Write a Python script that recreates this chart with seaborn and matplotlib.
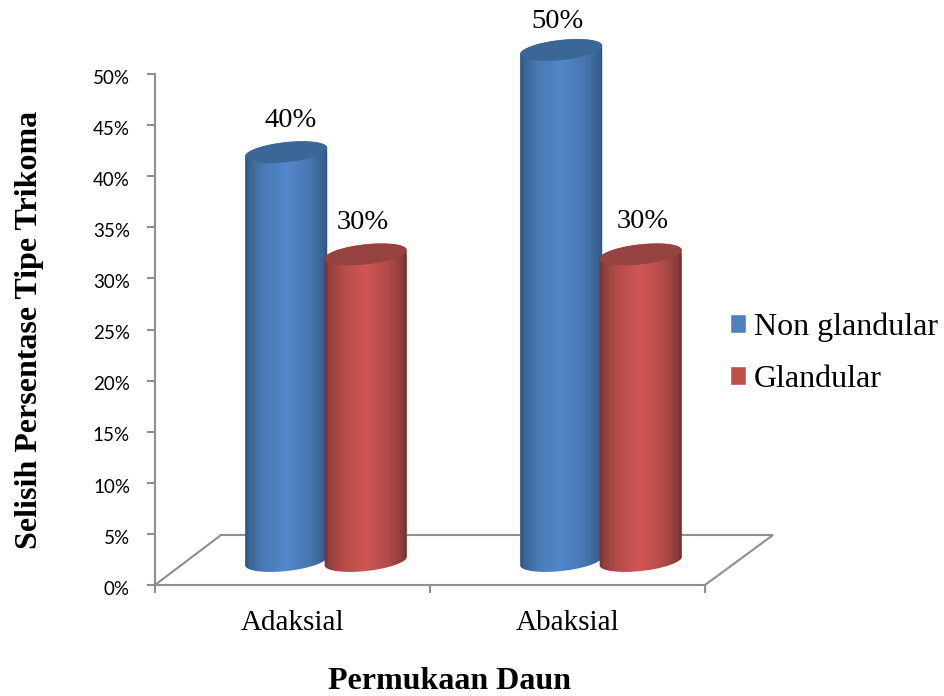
import numpy as np
import pandas as pd
import matplotlib
matplotlib.use("Agg")
import matplotlib.pyplot as plt
import matplotlib.transforms as mtransforms
from matplotlib.colors import LinearSegmentedColormap
from matplotlib.lines import Line2D
from matplotlib.path import Path
from matplotlib.patches import PathPatch
from matplotlib.ticker import PercentFormatter, FixedLocator
import seaborn as sns

# Data
surfaces = ["Adaksial", "Abaksial"]
non_glandular = [40, 50]
glandular = [30, 30]
series_names = ["Non glandular", "Glandular"]
value_ticks = [0, 5, 10, 15, 20, 25, 30, 35, 40, 45, 50]

df = pd.DataFrame({
    "Permukaan": surfaces * 2,
    "Tipe": [series_names[0]] * 2 + [series_names[1]] * 2,
    "Nilai": non_glandular + glandular,
})

W, H = 945, 696
SERIF = "Liberation Serif"
GRAY = "#8f8f8f"

sns.set_theme(style="white")
fig = plt.figure(figsize=(W / 100, H / 100), dpi=100, facecolor="white")
pix = mtransforms.Affine2D().scale(1, -1).translate(0, H)


def axes_rect(left, top, right, bottom):
    return [left / W, 1 - bottom / H, (right - left) / W, (bottom - top) / H]


# Value axis and category axis on the front edge of the floor
ax = fig.add_axes(axes_rect(155, 74, 705, 585), zorder=1)
ax.set_xlim(-0.5, 1.5)
ax.set_ylim(0, 50)
ax.set_facecolor("none")
for side in ("top", "right"):
    ax.spines[side].set_visible(False)
for side in ("left", "bottom"):
    ax.spines[side].set_color(GRAY)
    ax.spines[side].set_linewidth(1.5)
ax.yaxis.set_major_locator(FixedLocator(value_ticks))
ax.yaxis.set_major_formatter(PercentFormatter(xmax=100, decimals=0))
ax.set_xticks([-0.5, 0.5, 1.5])
ax.set_xticklabels([])
ax.set_xticks([0, 1], labels=surfaces, minor=True)
ax.tick_params(axis="both", which="major", length=6, width=1.5, color=GRAY, left=True, bottom=True)
ax.tick_params(axis="x", which="minor", length=0, pad=18, labelsize=21, bottom=False)
ax.tick_params(axis="y", labelsize=13.5, pad=12)
nudge_down = mtransforms.ScaledTranslation(0, -2 / 72, fig.dpi_scale_trans)
for t in ax.get_yticklabels():
    t.set_fontfamily("Lato")
    t.set_color("black")
    t.set_transform(t.get_transform() + nudge_down)
for t in ax.get_xticklabels(minor=True):
    t.set_fontfamily(SERIF)
    t.set_color("black")

ax.set_xlabel("Permukaan Daun", fontfamily=SERIF, fontweight="bold", fontsize=23, color="black")
ax.set_ylabel("Selisih Persentase Tipe Trikoma", fontfamily=SERIF, fontweight="bold", fontsize=23, color="black")
ax.xaxis.set_label_coords(450, 667, transform=pix)
ax.yaxis.set_label_coords(44, 330, transform=pix)

# Back and side edges of the floor
ax.add_line(Line2D([155, 221, 773, 705], [585, 535, 535, 585], transform=pix,
                   color=GRAY, lw=1.5, clip_on=False, solid_joinstyle="miter"))

# Bars sit further back in the scene, so they get their own shifted axes
ax_bars = fig.add_axes(axes_rect(188, 50, 738, 561), zorder=2)
ax_bars.set_facecolor("none")
palette = {series_names[0]: "#4F81BD", series_names[1]: "#C0504D"}
sns.barplot(data=df, x="Permukaan", y="Nilai", hue="Tipe", order=surfaces,
            hue_order=series_names, palette=palette, width=0.6, gap=0,
            saturation=1, ax=ax_bars, legend=True)
ax_bars.set_xlim(-0.5, 1.5)
ax_bars.set_ylim(0, 50)
ax_bars.axis("off")

handles, labels = ax_bars.get_legend_handles_labels()
ax_bars.get_legend().remove()
fig.legend(handles, labels, loc="upper left", bbox_to_anchor=(720 / W, 1 - 303 / H),
           frameon=False, prop={"family": SERIF, "size": 23}, labelcolor="black",
           handlelength=0.52, handleheight=0.52, handletextpad=0.25,
           labelspacing=0.72, borderaxespad=0, borderpad=0.3)

# Cylinder shading across the width of each bar
stops = [0, 0.05, 0.22, 0.5, 0.78, 0.95, 1]
ramps = {
    "#4F81BD": ["#2c4e78", "#3a6496", "#4a7ab4", "#5387cb", "#4877b0", "#38608f", "#2d5078"],
    "#C0504D": ["#713030", "#8e3e3c", "#b44c4a", "#d05654", "#b24b49", "#8a3c3a", "#6a2d2c"],
}
tops = {"#4F81BD": "#3b6698", "#C0504D": "#954240"}
nudges = {"#4F81BD": 0.007, "#C0504D": -0.004}

TILT = np.deg2rad(-6.3)
MINOR = 10.0
shade = np.linspace(0, 1, 256).reshape(1, -1)


def arc(cx, cy, a, t0, t1):
    t = np.linspace(t0, t1, 60)
    u, v = a * np.cos(t), MINOR * np.sin(t)
    return np.column_stack([cx + u * np.cos(TILT) - v * np.sin(TILT),
                            cy + u * np.sin(TILT) + v * np.cos(TILT)])


def closed(points):
    verts = np.vstack([points, points[:1]])
    codes = [Path.MOVETO] + [Path.LINETO] * (len(points) - 1) + [Path.CLOSEPOLY]
    return Path(verts, codes)


to_pix = ax_bars.transData + pix.inverted()
bars = [p for p in ax_bars.patches if p.get_height() > 0]
label_offsets = [(4, -32), (-4, -28), (-3, -32), (2, -33)]
for order, (bar, offset) in enumerate(zip(bars, label_offsets)):
    key = matplotlib.colors.to_hex(bar.get_facecolor()).upper()
    bar.set_x(bar.get_x() + nudges[key])
    value = bar.get_height()
    xc = bar.get_x() + bar.get_width() / 2
    (x0, y_base), (x1, y_top) = to_pix.transform([(bar.get_x(), 0), (bar.get_x() + bar.get_width(), value)])
    cx, half = (x0 + x1) / 2, (x1 - x0) / 2

    body = closed(np.vstack([arc(cx, y_top, half, np.pi, 2 * np.pi),
                             arc(cx, y_base, half, 0, np.pi)]))
    face = closed(arc(cx, y_top, half, 0, 2 * np.pi))
    z = 3 + order if key == "#4F81BD" else 8 + order

    bar.set_clip_path(body, pix)
    bar.set_clip_box(fig.bbox)
    cmap = LinearSegmentedColormap.from_list("cyl", list(zip(stops, ramps[key])))
    im = ax_bars.imshow(shade, cmap=cmap, aspect="auto", transform=pix,
                        extent=(x0, x1, y_base + 20, y_top - 20),
                        interpolation="bilinear", zorder=z)
    im.set_clip_path(body, pix)
    im.set_clip_box(fig.bbox)
    ax_bars.add_patch(PathPatch(face, transform=pix, facecolor=tops[key], edgecolor="none",
                                zorder=z + 0.5, clip_on=False))
    ax_bars.annotate(f"{value:.0f}%", xy=(xc, value), xytext=(offset[0] * 0.72, -offset[1] * 0.72),
                     textcoords="offset points", ha="center", va="center",
                     fontfamily=SERIF, fontsize=20.5, color="black", zorder=20, annotation_clip=False)

ax_bars.set_xlim(-0.5, 1.5)
ax_bars.set_ylim(0, 50)

fig.savefig("out.png", dpi=100)
